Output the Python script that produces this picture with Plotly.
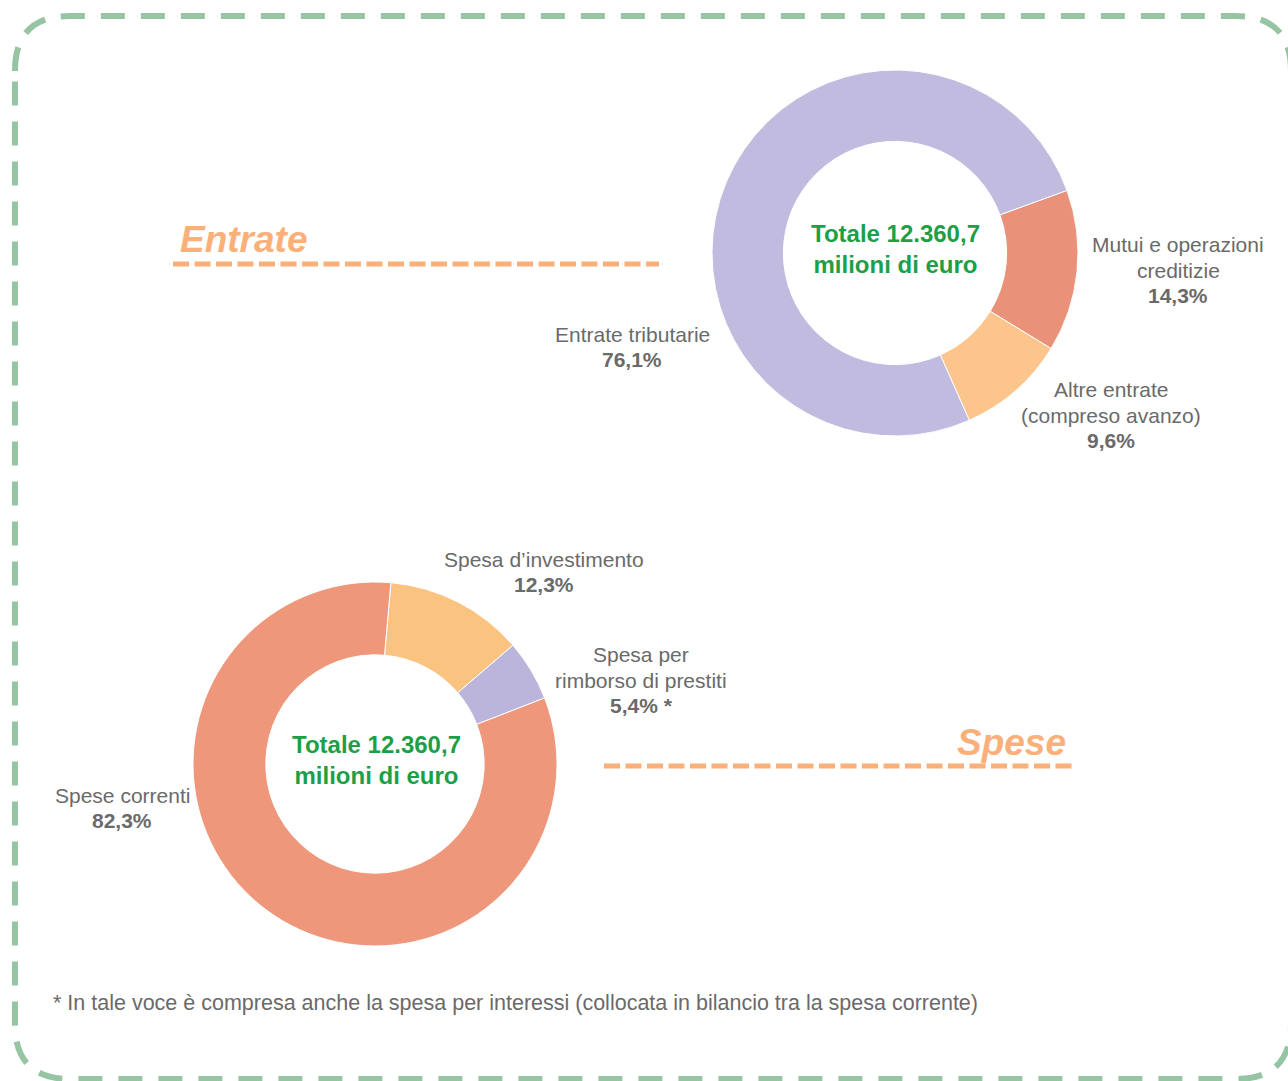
import plotly.graph_objects as go

W, H = 1288, 1081

# data
entrate_labels = ["Mutui e operazioni<br>creditizie", "Altre entrate<br>(compreso avanzo)", "Entrate tributarie"]
entrate_values = [14.3, 9.6, 76.1]
entrate_colors = ["#ea9279", "#fcc58c", "#c0bbdf"]

spese_labels = ["Spesa d\u2019investimento", "Spesa per<br>rimborso di prestiti", "Spese correnti"]
spese_values = [12.3, 5.4, 82.3]
spese_suffix = ["", " *", ""]
spese_colors = ["#fbc380", "#bbb4db", "#ef977b"]

totale = "Totale 12.360,7<br>milioni di euro"
nota = "* In tale voce \u00e8 compresa anche la spesa per interessi (collocata in bilancio tra la spesa corrente)"


def px(x):
    return x / W


def py(y):
    return 1 - y / H


def fmt(v):
    return f"{v:.1f}".replace(".", ",") + "%"


GRAY = "#6a6a6a"
GREEN = "#1d9f48"
ORANGE = "#fbb07a"
FONT = "Liberation Sans"
LINE_GAP = 25.5

fig = go.Figure()

# Entrate donut, centre (895, 253), r 183
fig.add_trace(go.Pie(
    labels=entrate_labels,
    values=entrate_values,
    hole=0.61,
    sort=False,
    direction="clockwise",
    rotation=70,
    textinfo="none",
    marker=dict(colors=entrate_colors, line=dict(color="white", width=1)),
    domain=dict(x=[px(712), px(1078)], y=[py(436), py(70)]),
    showlegend=False,
))

# Spese donut, centre (375, 764), r 182
fig.add_trace(go.Pie(
    labels=spese_labels,
    values=spese_values,
    hole=0.6,
    sort=False,
    direction="clockwise",
    rotation=5,
    textinfo="none",
    marker=dict(colors=spese_colors, line=dict(color="white", width=1)),
    domain=dict(x=[px(193), px(557)], y=[py(946), py(582)]),
    showlegend=False,
))

annotations = []


def note(x, y, text, size=21, color=GRAY, xanchor="center"):
    annotations.append(dict(
        x=px(x), y=py(y), xref="paper", yref="paper", text=text, showarrow=False,
        xanchor=xanchor, yanchor="middle", align=xanchor if xanchor != "center" else "center",
        font=dict(family=FONT, size=size, color=color),
    ))


def slice_label(x, y_mid, name, pct):
    lines = name.split("<br>") + [f"<b>{pct}</b>"]
    y0 = y_mid - (len(lines) - 1) / 2 * LINE_GAP
    for i, ln in enumerate(lines):
        note(x, y0 + i * LINE_GAP, ln)


# slice labels
entrate_pos = [(1178, 270), (1111, 415), (632, 347)]
for lab, val, (x, y) in zip(entrate_labels, entrate_values, entrate_pos):
    slice_label(x, y, lab, fmt(val))

spese_pos = [(544, 572), (641, 680), (122, 808)]
for lab, val, suf, (x, y) in zip(spese_labels, spese_values, spese_suffix, spese_pos):
    slice_label(x, y, lab, fmt(val) + suf)

# totals in the holes
note(895, 249, f"<b>{totale}</b>", size=24, color=GREEN)
note(376, 760, f"<b>{totale}</b>", size=24, color=GREEN)

# section titles
note(243, 240, "<b><i>Entrate</i></b>", size=37, color=ORANGE)
note(1011, 742, "<b><i>Spese</i></b>", size=37, color=ORANGE)

# footnote
note(51, 1003, nota, size=21.5, xanchor="left")

shapes = [
    dict(type="line", xref="paper", yref="paper", x0=px(173), x1=px(659), y0=py(264), y1=py(264),
         line=dict(color=ORANGE, width=5, dash="16px,5.5px")),
    dict(type="line", xref="paper", yref="paper", x0=px(604), x1=px(1073), y0=py(766), y1=py(766),
         line=dict(color=ORANGE, width=5, dash="16px,5.5px")),
]

# rounded dashed frame (runs slightly past the right/bottom edge)
L, T, R, B, r = 15, 16, 1291, 1079, 55
path = (
    f"M {px(L)},{py(T + r)} Q {px(L)},{py(T)} {px(L + r)},{py(T)} "
    f"L {px(R - r)},{py(T)} Q {px(R)},{py(T)} {px(R)},{py(T + r)} "
    f"L {px(R)},{py(B - r)} Q {px(R)},{py(B)} {px(R - r)},{py(B)} "
    f"L {px(L + r)},{py(B)} Q {px(L)},{py(B)} {px(L)},{py(B - r)} Z"
)
shapes.append(dict(type="path", xref="paper", yref="paper", path=path,
                   line=dict(color="#97c5a3", width=6, dash="24px,16px")))

fig.update_layout(
    width=W,
    height=H,
    margin=dict(l=0, r=0, t=0, b=0),
    paper_bgcolor="white",
    plot_bgcolor="white",
    annotations=annotations,
    shapes=shapes,
    font=dict(family=FONT),
)

fig.write_html("out.html", config={"displayModeBar": False},
               post_script="document.body.style.margin='0';")
